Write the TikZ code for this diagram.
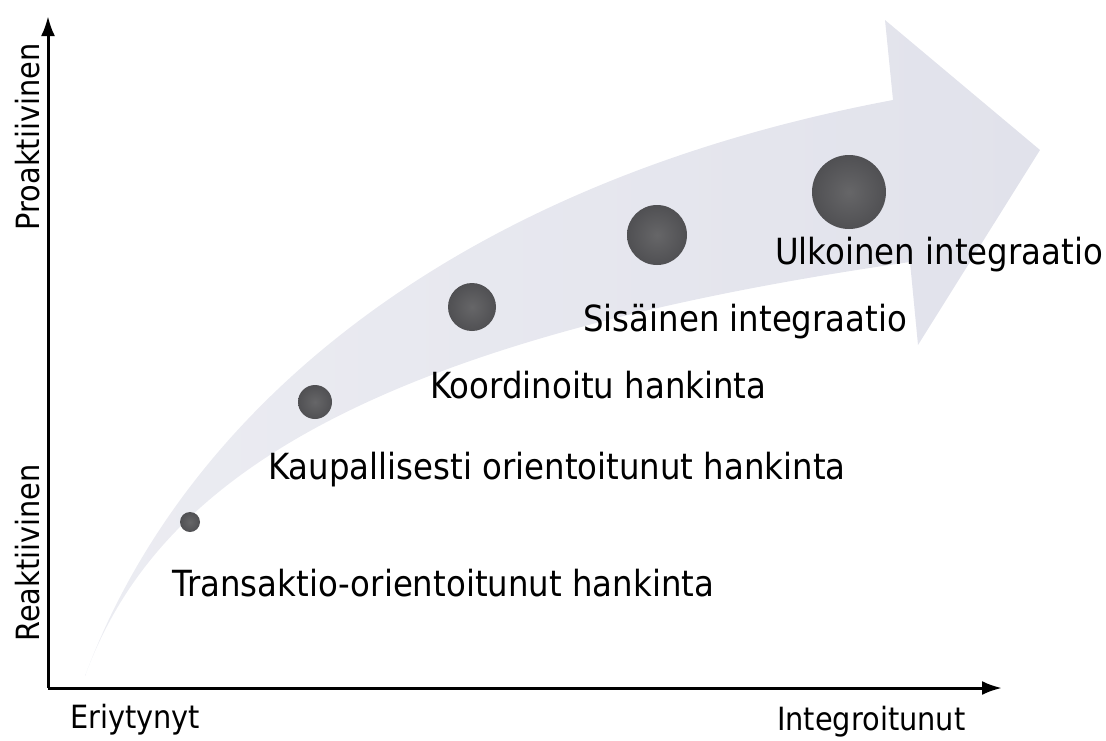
\documentclass[tikz,border=0pt]{standalone}
\usepackage{fontspec}
\usetikzlibrary{arrows.meta}
\setmainfont{DejaVu Sans}[FakeStretch=0.9]
\definecolor{bandgray}{RGB}{225,226,235}
\definecolor{dotgray}{RGB}{102,102,104}
\definecolor{dotdark}{RGB}{80,80,83}
\tikzset{
  lbl/.style={anchor=west, inner sep=0pt, font=\fontsize{36}{42}\selectfont},
  axlbl/.style={inner sep=0pt, font=\fontsize{32}{38}\selectfont},
  dot/.style={circle, inner sep=0pt, inner color=dotgray, outer color=dotdark},
}
\begin{document}
\begin{tikzpicture}[>={Latex[length=20pt,width=14pt]}, x=1pt, y=-1pt]
\useasboundingbox (0,0) rectangle (1106,740);
% iso nuoli
\shade[left color=bandgray!65, middle color=bandgray, right color=bandgray]
  (85,676) .. controls (180,420) and (440,185) .. (893,100) -- (885,20) -- (1040,150)
  -- (918,345) -- (910,262) .. controls (330,345) and (150,500) .. (85,676) -- cycle;
% akselit
\coordinate (o) at (48,688);
\coordinate (ytop) at (48,16);
\coordinate (xend) at (1002,688);
\draw[->,line width=3pt] (o)--(ytop);
\draw[->,line width=3pt] (o)--(xend);
\node[axlbl,rotate=90] (pro) at (28,137){Proaktiivinen};
\node[axlbl,rotate=90] (rea) at (28,553){Reaktiivinen};
\node[axlbl,anchor=west] (eri) at (70,720){Eriytynyt};
\node[axlbl,anchor=west] (int) at (777,722){Integroitunut};
% pallot
\node[dot,minimum size=20pt] (p1) at (190,522){};
\node[dot,minimum size=34pt] (p2) at (315,402){};
\node[dot,minimum size=48pt] (p3) at (472,307){};
\node[dot,minimum size=60pt] (p4) at (657,235){};
\node[dot,minimum size=74pt] (p5) at (849,192){};
% tekstit
\node[lbl] (t1) at (172,583){Transaktio-orientoitunut hankinta};
\node[lbl] (t2) at (268,470){Kaupallisesti orientoitunut hankinta};
\node[lbl] (t3) at (430,385){Koordinoitu hankinta};
\node[lbl] (t4) at (583,322){Sisäinen integraatio};
\node[lbl] (t5) at (775,255){Ulkoinen integraatio};
\end{tikzpicture}
\end{document}
